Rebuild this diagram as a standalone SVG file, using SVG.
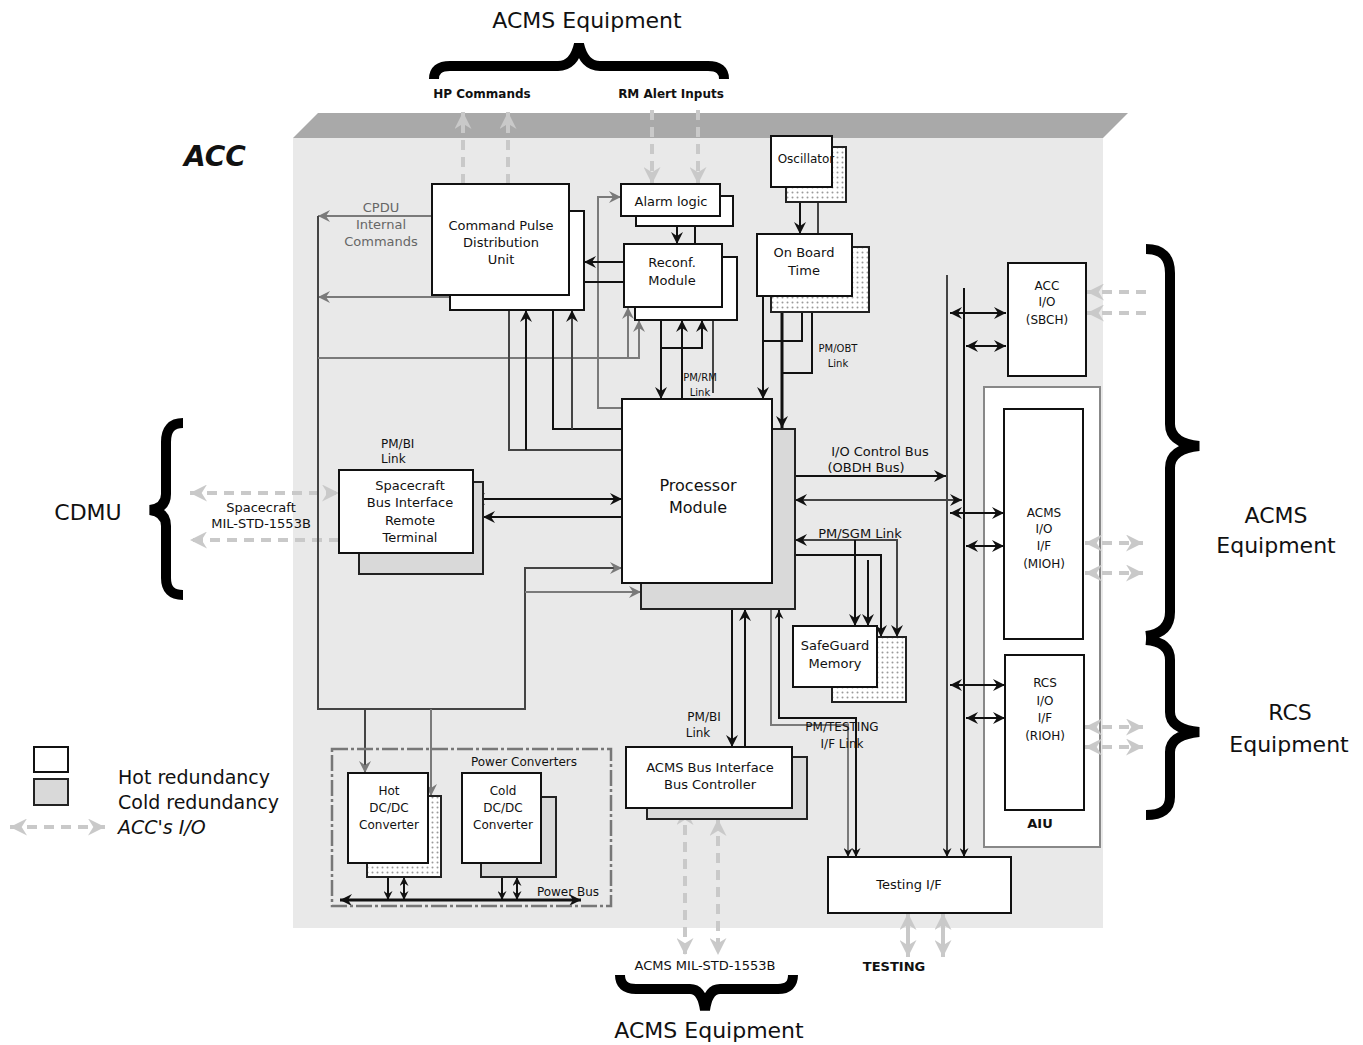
<svg xmlns="http://www.w3.org/2000/svg" width="1363" height="1045" viewBox="0 0 1363 1045">
  <style>
    text { font-family: "DejaVu Sans", "Liberation Sans", sans-serif; fill: #111; }
    .c { text-anchor: middle; }
    .s10 { font-size: 10px; }
    .s12 { font-size: 12px; }
    .s13 { font-size: 13px; }
    .s16 { font-size: 16px; }
    .s19 { font-size: 19px; }
    .s22 { font-size: 22px; }
    .b { font-weight: bold; }
    .grey { fill: #666; }
    .box { fill: #fff; stroke: #111; stroke-width: 2; }
    .cold { fill: #d9d9d9; stroke: #222; stroke-width: 2; }
    .dot { fill: url(#dots); stroke: #222; stroke-width: 2; }
    .ln { fill: none; stroke: #111; stroke-width: 2; }
    .thick { fill: none; stroke: #111; stroke-width: 3; }
    .gl { fill: none; stroke: #7a7a7a; stroke-width: 2; }
    .dk { fill: none; stroke: #444; stroke-width: 2; }
    .io { fill: none; stroke: #c9c9c9; stroke-width: 4; stroke-dasharray: 10 7; }
    .ios { fill: none; stroke: #c9c9c9; stroke-width: 4; }
    .brace { fill: none; stroke: #000; stroke-width: 10; }
  </style>
  <defs>
    <pattern id="dots" width="5" height="5" patternUnits="userSpaceOnUse">
      <rect width="5" height="5" fill="#fff"/>
      <circle cx="2.5" cy="2.5" r="1" fill="#9a9a9a"/>
    </pattern>
    <marker id="ah" viewBox="0 0 12 12" refX="12" refY="6" markerWidth="12" markerHeight="12" markerUnits="userSpaceOnUse" orient="auto-start-reverse">
      <path d="M0,0 L12,6 L0,12 L4,6 z" fill="#111"/>
    </marker>
    <marker id="as" viewBox="0 0 12 12" refX="12" refY="6" markerWidth="9" markerHeight="9" markerUnits="userSpaceOnUse" orient="auto-start-reverse">
      <path d="M0,0 L12,6 L0,12 L4,6 z" fill="#111"/>
    </marker>
    <marker id="ag" viewBox="0 0 12 12" refX="12" refY="6" markerWidth="12" markerHeight="12" markerUnits="userSpaceOnUse" orient="auto-start-reverse">
      <path d="M0,0 L12,6 L0,12 L4,6 z" fill="#7a7a7a"/>
    </marker>
    <marker id="ai" viewBox="0 0 16 16" refX="16" refY="8" markerWidth="17" markerHeight="17" markerUnits="userSpaceOnUse" orient="auto-start-reverse">
      <path d="M0,0 L16,8 L0,16 L5,8 z" fill="#c9c9c9"/>
    </marker>
  </defs>

  <rect width="1363" height="1045" fill="#fff"/>

  <!-- ACC enclosure with bevelled top edge -->
  <g id="acc">
    <rect x="293" y="138" width="810" height="790" fill="#e9e9e9"/>
    <polygon points="293,138 318,113 1128,113 1103,138" fill="#a9a9a9"/>
    <text x="184" y="166" class="b" font-size="28" font-style="italic">ACC</text>
  </g>

  <!-- external equipment braces -->
  <g id="braces">
    <path class="brace" stroke-width="11" d="M434,79 Q434,66 450,66 L558,66 Q574,66 579,44 Q584,66 600,66 L708,66 Q724,66 724,79"/>
    <path class="brace" d="M620,975 Q620,989 636,989 L690,989 Q702,989 705,1010 Q708,989 720,989 L778,989 Q793,989 793,975"/>
    <path class="brace" d="M183,423 Q166,423 166,442 L166,494 Q166,508 150,510 Q166,512 166,526 L166,578 Q166,595 183,595"/>
    <path class="brace" d="M1146,249 Q1170,249 1170,273 L1170,424 Q1170,443 1199,446 Q1170,449 1170,468 L1170,612 Q1170,633 1146,636"/>
    <path class="brace" d="M1146,640 Q1170,642 1170,660 L1170,712 Q1170,729 1199,732 Q1170,735 1170,752 L1170,797 Q1170,815 1146,815"/>
  </g>

  <!-- external labels -->
  <g id="labels">
    <text x="587" y="28" class="c s22">ACMS Equipment</text>
    <text x="482" y="98" class="c s12 b">HP Commands</text>
    <text x="671" y="98" class="c s12 b">RM Alert Inputs</text>
    <text x="88" y="520" class="c s22">CDMU</text>
    <text x="261" y="512" class="c s13" fill="#444">Spacecraft</text>
    <text x="261" y="528" class="c s13" fill="#444">MIL-STD-1553B</text>
    <text x="1276" y="523" class="c s22">ACMS</text>
    <text x="1276" y="553" class="c s22">Equipment</text>
    <text x="1290" y="720" class="c s22">RCS</text>
    <text x="1289" y="752" class="c s22">Equipment</text>
    <text x="705" y="970" class="c s13">ACMS MIL-STD-1553B</text>
    <text x="894" y="971" class="c s13 b">TESTING</text>
    <text x="709" y="1038" class="c s22">ACMS Equipment</text>
  </g>

  <!-- AIU frame sits beneath the bus links that cross it -->
  <g id="aiu">
    <rect x="984" y="387" width="116" height="460" fill="#fff" stroke="#888" stroke-width="2"/>
    <rect class="box" x="1004" y="409" width="79" height="230"/>
    <text x="1044" y="517" class="c s12">ACMS</text>
    <text x="1044" y="533" class="c s12">I/O</text>
    <text x="1044" y="550" class="c s12">I/F</text>
    <text x="1044" y="568" class="c s12">(MIOH)</text>
    <rect class="box" x="1005" y="655" width="79" height="155" stroke-width="2.5"/>
    <text x="1045" y="687" class="c s12">RCS</text>
    <text x="1045" y="705" class="c s12">I/O</text>
    <text x="1045" y="722" class="c s12">I/F</text>
    <text x="1045" y="740" class="c s12">(RIOH)</text>
    <text x="1040" y="828" class="c s13 b">AIU</text>
  </g>

  <!-- connectors -->
  <g id="connectors">
    <!-- external I/O -->
    <path class="io" d="M463,184 V112" marker-end="url(#ai)"/>
    <path class="io" d="M508,184 V112" marker-end="url(#ai)"/>
    <path class="io" d="M652,110 V184" marker-end="url(#ai)"/>
    <path class="io" d="M698,110 V184" marker-end="url(#ai)"/>
    <path class="io" d="M190,493 H339" marker-start="url(#ai)" marker-end="url(#ai)"/>
    <path class="io" d="M339,540 H190" marker-end="url(#ai)"/>
    <path class="io" d="M1146,292 H1087" marker-end="url(#ai)"/>
    <path class="io" d="M1146,313 H1087" marker-end="url(#ai)"/>
    <path class="io" d="M1085,543 H1143" marker-start="url(#ai)" marker-end="url(#ai)"/>
    <path class="io" d="M1085,573 H1143" marker-start="url(#ai)" marker-end="url(#ai)"/>
    <path class="io" d="M1085,727 H1143" marker-start="url(#ai)" marker-end="url(#ai)"/>
    <path class="io" d="M1085,747 H1143" marker-start="url(#ai)" marker-end="url(#ai)"/>
    <path class="io" d="M685,808 V955" marker-start="url(#ai)" marker-end="url(#ai)"/>
    <path class="io" d="M718,819 V955" marker-start="url(#ai)" marker-end="url(#ai)"/>
    <path class="ios" d="M908,913 V957" marker-start="url(#ai)" marker-end="url(#ai)"/>
    <path class="ios" d="M943,913 V957" marker-start="url(#ai)" marker-end="url(#ai)"/>

    <!-- CPDU internal commands and power feed -->
    <path class="gl" d="M432,216 H318" marker-end="url(#ag)"/>
    <path class="gl" d="M450,297 H318" marker-end="url(#ag)"/>
    <path class="dk" d="M318,216 V709 H525 V568 H622" marker-end="url(#ag)"/>
    <path class="gl" d="M525,592 H641" marker-end="url(#ag)"/>
    <path class="dk" d="M365,709 V773" marker-end="url(#ag)"/>
    <path class="gl" d="M431,709 V796" marker-end="url(#ag)"/>
    <path class="gl" d="M318,358 H639 V320" marker-end="url(#ag)"/>
    <path class="gl" d="M628,358 V307" marker-end="url(#ag)"/>
    <path class="gl" d="M622,408 H598 V197 H621" marker-end="url(#ag)"/>

    <!-- alarm logic / reconfiguration -->
    <path class="ln" d="M677,216 V244" marker-end="url(#ah)"/>
    <path class="ln" d="M695,226 V257" marker-end="url(#ah)"/>
    <path class="ln" d="M624,262 H584" marker-end="url(#ah)"/>
    <path class="ln" d="M624,282 H570" marker-end="url(#ah)"/>
    <path class="ln" d="M661,307 V399" marker-start="url(#ah)" marker-end="url(#ah)"/>
    <path class="ln" d="M682,399 V320" marker-end="url(#ah)"/>
    <path class="ln" d="M661,348 H702 V320" marker-end="url(#ah)"/>
    <path class="dk" d="M713,393 V307" marker-end="url(#ah)"/>

    <!-- processor to CPDU -->
    <path class="dk" d="M622,450 H509 V295" marker-end="url(#ah)"/>
    <path class="ln" d="M526,450 V310" marker-end="url(#ah)"/>
    <path class="ln" d="M622,429 H553 V295" marker-end="url(#ah)"/>
    <path class="dk" d="M572,429 V310" marker-end="url(#ah)"/>

    <!-- time reference -->
    <path class="ln" d="M800,187 V234" marker-end="url(#ah)"/>
    <path class="dk" d="M818,202 V247"/>
    <path class="ln" d="M763,296 V399" marker-end="url(#ah)"/>
    <path class="ln" d="M763,341 H802 V312"/>
    <path class="thick" d="M782,312 V428" marker-end="url(#ah)"/>
    <path class="ln" d="M812,312 V373 H782"/>

    <!-- spacecraft bus interface -->
    <path class="ln" d="M473,499 H622" marker-start="url(#ah)" marker-end="url(#ah)"/>
    <path class="ln" d="M622,517 H483" marker-end="url(#ah)"/>

    <!-- I/O control bus and AIU links -->
    <path class="ln" d="M772,476 H946" marker-start="url(#ah)" marker-end="url(#ah)"/>
    <path class="dk" d="M795,500 H962" marker-start="url(#ah)" marker-end="url(#ah)"/>
    <path class="dk" d="M947,275 V857" marker-end="url(#as)"/>
    <path class="ln" d="M964,288 V857" marker-end="url(#as)"/>
    <path class="ln" d="M950,313 H1006" marker-start="url(#ah)" marker-end="url(#ah)"/>
    <path class="ln" d="M966,346 H1006" marker-start="url(#ah)" marker-end="url(#ah)"/>
    <path class="ln" d="M950,513 H1004" marker-start="url(#ah)" marker-end="url(#ah)"/>
    <path class="ln" d="M966,546 H1004" marker-start="url(#ah)" marker-end="url(#ah)"/>
    <path class="ln" d="M950,685 H1005" marker-start="url(#ah)" marker-end="url(#ah)"/>
    <path class="ln" d="M966,718 H1005" marker-start="url(#ah)" marker-end="url(#ah)"/>

    <!-- safeguard memory link -->
    <path class="dk" d="M795,540 H897 V637" marker-start="url(#ah)" marker-end="url(#ah)"/>
    <path class="ln" d="M778,555 H881 V637" marker-start="url(#ah)" marker-end="url(#ah)"/>
    <path class="ln" d="M855,540 V626" marker-end="url(#ah)"/>
    <path class="ln" d="M868,560 V626" marker-end="url(#ah)"/>

    <!-- ACMS bus controller and testing links -->
    <path class="ln" d="M732,583 V747" marker-start="url(#ah)" marker-end="url(#ah)"/>
    <path class="ln" d="M745,747 V609" marker-end="url(#ah)"/>
    <path class="gl" d="M771,584 V725 H848 V857" marker-start="url(#ag)" marker-end="url(#as)"/>
    <path class="ln" d="M779,610 V718 H856 V857" marker-start="url(#as)" marker-end="url(#as)"/>

    <!-- power bus -->
    <path class="thick" d="M340,900 H581" marker-start="url(#ah)" marker-end="url(#ah)"/>
    <path class="ln" d="M388,863 V900" marker-start="url(#as)" marker-end="url(#as)"/>
    <path class="ln" d="M404,877 V900" marker-start="url(#as)" marker-end="url(#as)"/>
    <path class="ln" d="M502,863 V900" marker-start="url(#as)" marker-end="url(#as)"/>
    <path class="ln" d="M517,877 V900" marker-start="url(#as)" marker-end="url(#as)"/>
  </g>

  <!-- link labels -->
  <g id="link-labels">
    <text x="381" y="212" class="c s13 grey">CPDU</text>
    <text x="381" y="229" class="c s13 grey">Internal</text>
    <text x="381" y="246" class="c s13 grey">Commands</text>
    <text x="381" y="448" class="s12">PM/BI</text>
    <text x="381" y="463" class="s12">Link</text>
    <text x="700" y="381" class="c s10">PM/RM</text>
    <text x="700" y="396" class="c s10">Link</text>
    <text x="838" y="352" class="c s10">PM/OBT</text>
    <text x="838" y="367" class="c s10">Link</text>
    <text x="880" y="456" class="c s13">I/O Control Bus</text>
    <text x="866" y="472" class="c s13">(OBDH Bus)</text>
    <text x="860" y="538" class="c s13">PM/SGM Link</text>
    <text x="704" y="721" class="c s12">PM/BI</text>
    <text x="698" y="737" class="c s12">Link</text>
    <text x="842" y="731" class="c s12">PM/TESTING</text>
    <text x="842" y="748" class="c s12">I/F Link</text>
  </g>

  <g id="cpdu">
    <rect class="box" x="450" y="211" width="134" height="99"/>
    <rect class="box" x="432" y="184" width="137" height="111"/>
    <text x="501" y="230" class="c s13">Command Pulse</text>
    <text x="501" y="247" class="c s13">Distribution</text>
    <text x="501" y="264" class="c s13">Unit</text>
  </g>

  <g id="alarm-logic">
    <rect class="box" x="636" y="196" width="97" height="30"/>
    <rect class="box" x="621" y="184" width="99" height="32"/>
    <text x="671" y="206" class="c s13">Alarm logic</text>
  </g>

  <g id="reconf-module">
    <rect class="box" x="635" y="257" width="102" height="63"/>
    <rect class="box" x="624" y="244" width="98" height="63"/>
    <text x="672" y="267" class="c s13">Reconf.</text>
    <text x="672" y="285" class="c s13">Module</text>
  </g>

  <g id="oscillator">
    <rect class="dot" x="786" y="147" width="60" height="55"/>
    <rect class="box" x="771" y="136" width="61" height="51"/>
    <text x="806" y="163" class="c s12">Oscillator</text>
  </g>

  <g id="on-board-time">
    <rect class="dot" x="771" y="247" width="98" height="65"/>
    <rect class="box" x="757" y="234" width="95" height="62"/>
    <text x="804" y="257" class="c s13">On Board</text>
    <text x="804" y="275" class="c s13">Time</text>
  </g>

  <g id="processor-module">
    <rect class="cold" x="641" y="429" width="154" height="180"/>
    <rect class="box" x="622" y="399" width="150" height="184"/>
    <text x="698" y="491" class="c s16">Processor</text>
    <text x="698" y="513" class="c s16">Module</text>
  </g>

  <g id="sbirt">
    <rect class="cold" x="359" y="482" width="124" height="92"/>
    <rect class="box" x="339" y="470" width="134" height="83"/>
    <text x="410" y="490" class="c s13">Spacecraft</text>
    <text x="410" y="507" class="c s13">Bus Interface</text>
    <text x="410" y="525" class="c s13">Remote</text>
    <text x="410" y="542" class="c s13">Terminal</text>
  </g>

  <g id="safeguard-memory">
    <rect class="dot" x="832" y="637" width="74" height="65"/>
    <rect class="box" x="793" y="626" width="84" height="61"/>
    <text x="835" y="650" class="c s13">SafeGuard</text>
    <text x="835" y="668" class="c s13">Memory</text>
  </g>

  <g id="acms-bus-controller">
    <rect class="cold" x="647" y="757" width="160" height="62"/>
    <rect class="box" x="626" y="747" width="166" height="61"/>
    <text x="710" y="772" class="c s13">ACMS Bus Interface</text>
    <text x="710" y="789" class="c s13">Bus Controller</text>
  </g>

  <g id="testing-if">
    <rect class="box" x="828" y="857" width="183" height="56"/>
    <text x="909" y="889" class="c s13">Testing I/F</text>
  </g>

  <g id="acc-io">
    <rect class="box" x="1008" y="263" width="78" height="113"/>
    <text x="1047" y="290" class="c s12">ACC</text>
    <text x="1047" y="306" class="c s12">I/O</text>
    <text x="1047" y="324" class="c s12">(SBCH)</text>
  </g>

  <g id="power-converters">
    <rect x="332" y="749" width="279" height="157" fill="none" stroke="#777" stroke-width="2.5" stroke-dasharray="16 3 3 3"/>
    <text x="524" y="766" class="c s12">Power Converters</text>
    <text x="568" y="896" class="c s12">Power Bus</text>
  </g>

  <g id="hot-dcdc">
    <rect class="dot" x="367" y="796" width="74" height="81"/>
    <rect class="box" x="348" y="773" width="80" height="90"/>
    <text x="389" y="795" class="c s12">Hot</text>
    <text x="389" y="812" class="c s12">DC/DC</text>
    <text x="389" y="829" class="c s12">Converter</text>
  </g>

  <g id="cold-dcdc">
    <rect class="cold" x="481" y="797" width="75" height="80"/>
    <rect class="box" x="462" y="773" width="79" height="90"/>
    <text x="503" y="795" class="c s12">Cold</text>
    <text x="503" y="812" class="c s12">DC/DC</text>
    <text x="503" y="829" class="c s12">Converter</text>
  </g>

  <g id="legend">
    <rect class="box" x="34" y="747" width="34" height="25"/>
    <rect class="cold" x="34" y="779" width="34" height="26"/>
    <text x="118" y="784" class="s19">Hot redundancy</text>
    <text x="118" y="809" class="s19">Cold redundancy</text>
    <path class="io" d="M10,827 H105" marker-start="url(#ai)" marker-end="url(#ai)"/>
    <text x="118" y="834" class="s19" font-style="italic">ACC's I/O</text>
  </g>
</svg>
